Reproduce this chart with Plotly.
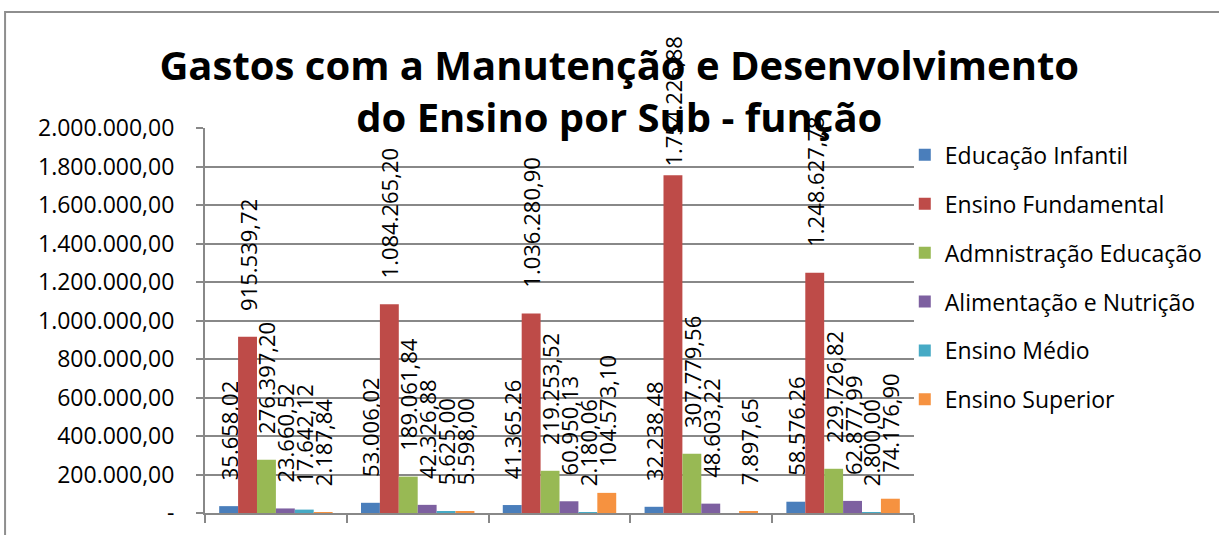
import plotly.graph_objects as go

# ---- data ----
categories = ["1", "2", "3", "4", "5"]
series_names = [
    "Educação Infantil",
    "Ensino Fundamental",
    "Admnistração Educação",
    "Alimentação e Nutrição",
    "Ensino Médio",
    "Ensino Superior",
]
educacao_infantil = [35658.02, 53006.02, 41365.26, 32238.48, 58576.26]
ensino_fundamental = [915539.72, 1084265.20, 1036280.90, 1754226.88, 1248627.78]
administracao_educacao = [276397.20, 189061.84, 219253.52, 307779.56, 229726.82]
alimentacao_nutricao = [23660.52, 42326.88, 60950.13, 48603.22, 62877.99]
ensino_medio = [17642.12, 5625.00, 2180.06, None, 2800.00]
ensino_superior = [2187.84, 5598.00, 104573.10, 7897.65, 74176.90]

y_tickvals = [0, 200000, 400000, 600000, 800000, 1000000, 1200000, 1400000,
              1600000, 1800000, 2000000]
y_ticktext = ["-", "200.000,00", "400.000,00", "600.000,00", "800.000,00",
              "1.000.000,00", "1.200.000,00", "1.400.000,00", "1.600.000,00",
              "1.800.000,00", "2.000.000,00"]

series_values = [educacao_infantil, ensino_fundamental, administracao_educacao,
                 alimentacao_nutricao, ensino_medio, ensino_superior]
colors = ["#4A7EBB", "#BE4B48", "#98B954", "#7D60A0", "#46AAC5", "#F69240"]


def fmt_br(v):
    if v is None:
        return ""
    s = f"{v:,.2f}"
    return s.replace(",", "X").replace(".", ",").replace("X", ".")


FONT = "Open Sans"
NB = "\u00a0"


def label(v):
    if v is None:
        return ""
    # labels near the top of the chart sit closer to their bar (as in Excel)
    pad = 1 if v > 1600000 else 4
    return NB * pad + fmt_br(v)


fig = go.Figure()
for name, vals, col in zip(series_names, series_values, colors):
    fig.add_trace(go.Bar(
        name=name,
        x=categories,
        y=vals,
        marker=dict(color=col, line=dict(width=0)),
        text=[label(v) for v in vals],
        textposition="outside",
        textangle=-90,
        constraintext="none",
        cliponaxis=False,
        textfont=dict(family=FONT, size=22, color="#000000"),
        legendgroup=name,
        hoverinfo="skip",
    ))

grid = "#888888"
fig.update_layout(
    width=1219,
    height=535,
    margin=dict(l=205, r=305, t=128, b=22, autoexpand=False),
    paper_bgcolor="white",
    plot_bgcolor="white",
    barmode="group",
    bargap=0.2,
    bargroupgap=0,
    font=dict(family=FONT, size=23, color="#000000"),
    title=dict(
        text="<b>Gastos com a Manutenção e Desenvolvimento<br>do Ensino por Sub - função</b>",
        x=0.508,
        xanchor="center",
        y=0.85,
        yanchor="top",
        yref="container",
        font=dict(family=FONT, size=40, color="#000000"),
    ),
    legend=dict(
        x=0.987,
        xanchor="left",
        y=0.986,
        yanchor="top",
        font=dict(family=FONT, size=23, color="#000000"),
        tracegroupgap=16,
        bgcolor="rgba(0,0,0,0)",
    ),
    showlegend=True,
    xaxis=dict(
        type="category",
        showticklabels=False,
        tickson="boundaries",
        ticks="outside",
        ticklen=8,
        tickcolor=grid,
        tickwidth=2,
        showline=True,
        linecolor=grid,
        linewidth=2,
        showgrid=False,
        automargin=False,
    ),
    yaxis=dict(
        range=[0, 2000000],
        tickvals=y_tickvals,
        ticktext=y_ticktext,
        ticks="outside",
        ticklen=7,
        tickcolor=grid,
        tickwidth=2,
        ticklabelstandoff=17,
        showline=True,
        linecolor=grid,
        linewidth=2,
        showgrid=True,
        gridcolor=grid,
        gridwidth=2,
        zeroline=False,
        automargin=False,
        tickfont=dict(family=FONT, size=23, color="#000000"),
    ),
    shapes=[dict(
        type="rect", xref="paper", yref="paper",
        x0=-0.282, x1=1.6, y0=-0.3, y1=1.301,
        line=dict(color="#8E8E8E", width=2),
        fillcolor="rgba(0,0,0,0)",
        layer="below",
    )],
)

fig.write_html(
    "out.html",
    config={"displayModeBar": False},
    post_script="document.body.style.margin='0';",
)
